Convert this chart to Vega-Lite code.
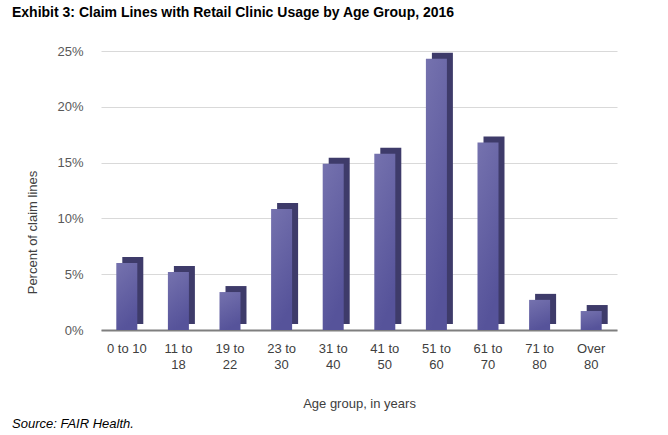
{
  "$schema": "https://vega.github.io/schema/vega-lite/v6.json",
  "padding": {"left": 12, "top": 6, "right": 10, "bottom": 4},
  "background": "white",
  "title": {
    "text": "Exhibit 3: Claim Lines with Retail Clinic Usage by Age Group, 2016",
    "anchor": "start",
    "frame": "bounds",
    "dx": 0,
    "font": "Liberation Sans",
    "fontSize": 14,
    "fontWeight": "bold",
    "color": "#000000",
    "offset": 25
  },
  "config": {"view": {"stroke": null}, "font": "Liberation Sans"},
  "vconcat": [
    {
      "width": 516,
      "height": 279,
      "title": {
        "text": "Source: FAIR Health.",
        "orient": "bottom",
        "anchor": "start",
        "frame": "bounds",
        "dx": -14,
        "font": "Liberation Sans",
        "fontStyle": "italic",
        "fontWeight": "normal",
        "fontSize": 13,
        "color": "#000000",
        "offset": 8
      },
      "data": {
        "values": [
          {"age": "0 to 10", "pct": 0.060},
          {"age": "11 to 18", "pct": 0.052},
          {"age": "19 to 22", "pct": 0.034},
          {"age": "23 to 30", "pct": 0.1085},
          {"age": "31 to 40", "pct": 0.149},
          {"age": "41 to 50", "pct": 0.158},
          {"age": "51 to 60", "pct": 0.243},
          {"age": "61 to 70", "pct": 0.168},
          {"age": "71 to 80", "pct": 0.027},
          {"age": "Over 80", "pct": 0.017}
        ]
      },
      "encoding": {
        "x": {
          "field": "age",
          "type": "nominal",
          "sort": null,
          "scale": {"paddingInner": 0.5, "paddingOuter": 0.25},
          "axis": {
            "labelAngle": 0,
            "ticks": false,
            "labelPadding": 12,
            "labelFontSize": 13,
            "labelColor": "#404040",
            "labelLineHeight": 16,
            "labelExpr": "datum.label === '0 to 10' ? datum.label : [slice(datum.label, 0, lastindexof(datum.label, ' ')), slice(datum.label, lastindexof(datum.label, ' ') + 1)]",
            "domainColor": "#7f7f7f",
            "domainWidth": 2,
            "title": "Age group, in years",
            "titleFontSize": 13,
            "titleFontWeight": "normal",
            "titleColor": "#404040",
            "titlePadding": 26
          }
        },
        "y": {
          "field": "pct",
          "type": "quantitative",
          "scale": {"domain": [0, 0.25]},
          "axis": {
            "values": [0, 0.05, 0.1, 0.15, 0.2, 0.25],
            "format": ".0%",
            "domain": false,
            "ticks": false,
            "labelPadding": 18,
            "labelFontSize": 13,
            "labelColor": "#595959",
            "gridColor": "#d9d9d9",
            "title": "Percent of claim lines",
            "titleFontSize": 13,
            "titleFontWeight": "normal",
            "titleColor": "#404040",
            "titleX": -69,
            "titleY": 181,
            "titleBaseline": "middle"
          }
        }
      },
      "layer": [
        {"mark": {"type": "bar", "width": 21, "color": "#3e3b6a", "xOffset": 6, "yOffset": -6}},
        {
          "mark": {
            "type": "bar",
            "width": 21,
            "color": {
              "gradient": "linear",
              "x1": 0, "y1": 0, "x2": 0.3, "y2": 1,
              "stops": [
                {"offset": 0, "color": "#7572ae"},
                {"offset": 1, "color": "#56539a"}
              ]
            }
          }
        }
      ]
    }
  ]
}
